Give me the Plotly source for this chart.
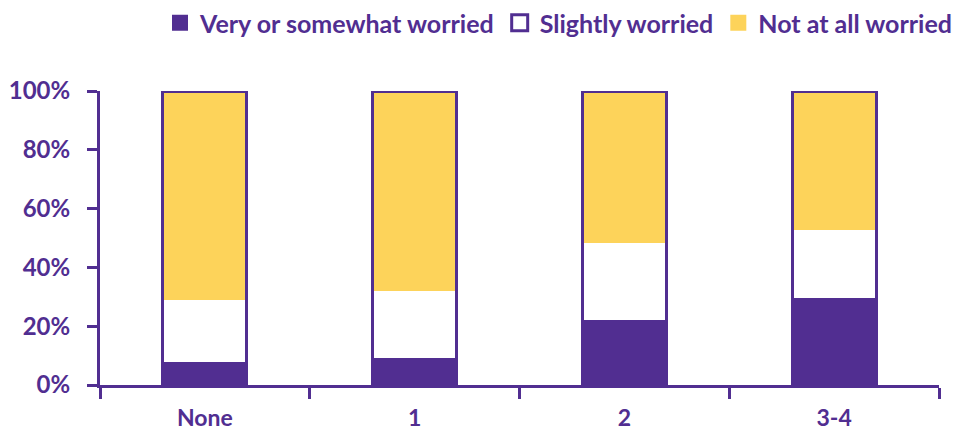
import plotly.graph_objects as go

categories = ["None", "1", "2", "3-4"]
very_worried = [7.7, 9.3, 22.2, 29.5]
slightly_worried = [21.3, 22.8, 26.2, 23.3]
not_worried = [71.0, 67.9, 51.6, 47.2]
totals = [a + b + c for a, b, c in zip(very_worried, slightly_worried, not_worried)]
y_ticks = [0, 20, 40, 60, 80, 100]
y_tick_labels = ["0%", "20%", "40%", "60%", "80%", "100%"]

PURPLE = "#512E91"
YELLOW = "#FDD35A"
FONT = "Lato"

fig = go.Figure()
fig.add_trace(go.Bar(x=categories, y=very_worried, name="Very or somewhat worried",
                     marker=dict(color=PURPLE, line=dict(width=0)), width=0.4, showlegend=False))
fig.add_trace(go.Bar(x=categories, y=slightly_worried, name="Slightly worried",
                     marker=dict(color="white", line=dict(width=0)), width=0.4, showlegend=False))
fig.add_trace(go.Bar(x=categories, y=not_worried, name="Not at all worried",
                     marker=dict(color=YELLOW, line=dict(width=0)), width=0.4, showlegend=False))
# outline of each whole bar
fig.add_trace(go.Bar(x=categories, y=totals, xaxis="x2", yaxis="y",
                     marker=dict(color="rgba(0,0,0,0)", line=dict(color=PURPLE, width=3)),
                     width=0.4, showlegend=False, cliponaxis=False, hoverinfo="skip"))

# legend entries
fig.add_trace(go.Scatter(x=[None], y=[None], mode="markers", name="Very or somewhat worried",
                         marker=dict(symbol="square", size=16, color=PURPLE, line=dict(width=0))))
fig.add_trace(go.Scatter(x=[None], y=[None], mode="markers", name="Slightly worried",
                         marker=dict(symbol="square", size=16, color="white", line=dict(color=PURPLE, width=3))))
fig.add_trace(go.Scatter(x=[None], y=[None], mode="markers", name="Not at all worried",
                         marker=dict(symbol="square", size=16, color=YELLOW, line=dict(width=0))))

fig.update_layout(
    width=957, height=430,
    barmode="stack",
    bargap=0.6,
    plot_bgcolor="white", paper_bgcolor="white",
    margin=dict(l=100, r=18, t=91, b=45),
    font=dict(family=FONT, color=PURPLE, size=22, weight="bold"),
    legend=dict(orientation="h", x=1.0, xanchor="right", y=1.0, yanchor="top",
                yref="container", xref="container",
                font=dict(family=FONT, size=25, color=PURPLE, weight="bold"),
                itemwidth=30, tracegroupgap=0, traceorder="normal",
                bgcolor="rgba(0,0,0,0)"),
    xaxis=dict(
        type="category", categoryorder="array", categoryarray=categories,
        range=[-0.5, 3.5], tickson="boundaries", ticks="outside", ticklen=11,
        tickwidth=3, tickcolor=PURPLE, showline=True, linecolor=PURPLE, linewidth=3,
        showgrid=False, zeroline=False, ticklabelstandoff=10, automargin=False,
        tickfont=dict(family=FONT, size=23, color=PURPLE, weight="bold"),
    ),
    xaxis2=dict(
        type="category", categoryorder="array", categoryarray=categories,
        range=[-0.5, 3.5], overlaying="x", visible=False, anchor="y",
    ),
    yaxis=dict(
        range=[0, 100], tickvals=y_ticks, ticktext=y_tick_labels,
        ticks="outside", ticklen=10, tickwidth=3, tickcolor=PURPLE,
        showline=True, linecolor=PURPLE, linewidth=3, showgrid=False, zeroline=False,
        ticklabelstandoff=12, automargin=False,
        tickfont=dict(family=FONT, size=24, color=PURPLE, weight="bold"),
    ),
)

fig.write_html("out.html")
